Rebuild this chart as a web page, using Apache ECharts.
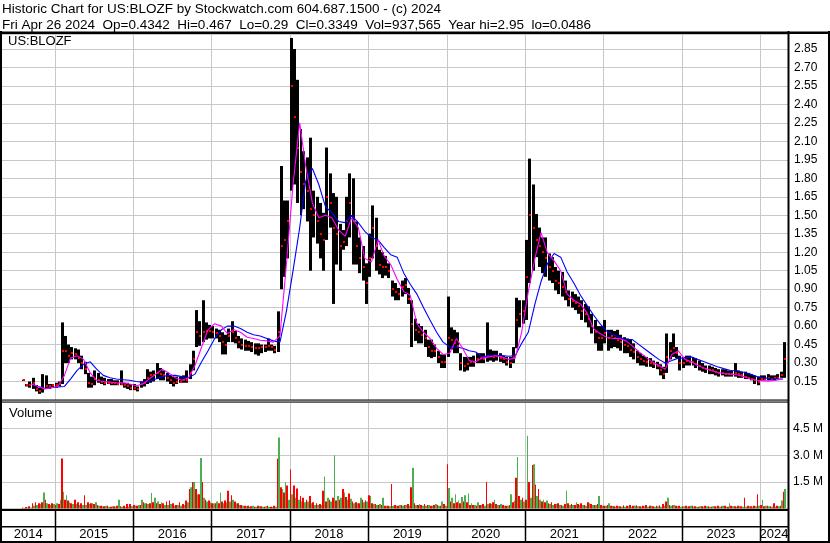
<!DOCTYPE html>
<html><head><meta charset="utf-8">
<script src="https://cdn.jsdelivr.net/npm/echarts@6/dist/echarts.min.js"></script>
<style>html,body{margin:0;padding:0;background:#fff}#c{width:830px;height:543px}</style>
</head><body><div id="c"></div>
<script>
// ---------- text ----------
const titleLine1 = 'Historic Chart for US:BLOZF by Stockwatch.com 604.687.1500 - (c) 2024';
const titleLine2 = 'Fri Apr 26 2024  Op=0.4342  Hi=0.467  Lo=0.29  Cl=0.3349  Vol=937,565  Year hi=2.95  lo=0.0486';
const symbolLabel = 'US:BLOZF';
const volumeLabel = 'Volume';

// ---------- half-month periods, first period starts 2014-08-01 ----------
const high = [
.165,.13,.15,.18,.12,.10,.21,.20,.13,.13,
.14,.15,.63,.52,.45,.43,.42,.41,.36,.31,
.22,.19,.24,.22,.19,.18,.17,.17,.16,.16,
.24,.14,.14,.13,.13,.11,.15,.17,.25,.23,
.24,.30,.26,.24,.22,.20,.19,.19,.19,.20,
.24,.29,.40,.73,.64,.81,.63,.61,.60,.58,
.57,.55,.53,.58,.64,.56,.52,.50,.49,.48,
.47,.46,.46,.45,.45,.50,.45,.44,.72,1.90,
1.62,1.62,2.94,2.85,2.60,2.20,2.02,1.97,2.13,1.70,
1.65,1.60,1.52,2.05,1.84,1.68,1.65,1.43,1.38,1.65,
1.84,1.80,1.45,1.32,1.25,1.11,1.35,1.58,1.48,1.22,
1.20,1.17,1.11,.97,.95,.91,.97,.99,.91,.81,
.66,.62,.60,.57,.49,.49,.45,.40,.37,.37,
.84,.59,.57,.55,.38,.35,.35,.35,.36,.38,
.38,.38,.63,.41,.40,.40,.38,.36,.35,.35,
.43,.83,.81,.81,1.30,1.96,1.75,1.51,1.40,1.32,
1.32,1.19,1.16,1.08,1.05,1.04,.97,.89,.88,.86,
.84,.81,.78,.76,.70,.65,.60,.60,.65,.57,
.57,.56,.57,.53,.51,.50,.49,.46,.40,.38,
.36,.35,.34,.32,.31,.29,.27,.54,.47,.54,
.43,.36,.35,.36,.36,.35,.34,.32,.30,.28,
.28,.27,.26,.25,.25,.25,.24,.24,.30,.24,
.23,.23,.22,.21,.20,.19,.20,.20,.21,.20,
.20,.21,.23,.47];
const low = [
.155,.11,.10,.09,.07,.05,.06,.09,.09,.10,
.10,.11,.13,.30,.30,.33,.33,.30,.25,.21,
.10,.10,.12,.14,.13,.12,.13,.12,.12,.12,
.12,.10,.09,.08,.08,.07,.10,.11,.13,.14,
.15,.17,.16,.16,.15,.13,.11,.13,.14,.14,
.14,.17,.24,.43,.44,.47,.49,.50,.50,.50,
.47,.37,.37,.47,.47,.46,.42,.41,.40,.40,
.39,.37,.36,.38,.39,.40,.40,.38,.39,.90,
1.00,1.15,1.70,1.75,1.60,1.50,1.55,1.45,1.05,1.32,
1.27,1.15,1.05,1.30,1.40,.78,1.10,1.05,1.22,1.25,
1.32,1.10,1.10,1.03,.97,.78,1.00,1.15,1.05,1.02,
.99,1.01,.99,.84,.81,.81,.84,.86,.78,.43,
.48,.46,.46,.43,.35,.34,.35,.30,.26,.26,
.35,.41,.38,.38,.24,.23,.24,.27,.27,.30,
.30,.30,.31,.32,.31,.32,.31,.30,.28,.26,
.30,.42,.59,.62,.65,.95,1.05,1.16,1.08,1.03,
1.00,.97,.95,.89,.86,.84,.81,.76,.75,.73,
.70,.65,.63,.59,.54,.46,.40,.40,.46,.40,
.42,.43,.42,.40,.38,.38,.35,.33,.30,.28,
.28,.27,.27,.26,.25,.20,.17,.22,.33,.35,
.34,.24,.26,.28,.28,.28,.26,.24,.23,.22,
.21,.21,.20,.19,.20,.19,.19,.19,.19,.18,
.18,.17,.17,.16,.13,.12,.16,.16,.16,.16,
.16,.17,.18,.18];
const close = [
.16,.12,.12,.14,.09,.07,.10,.11,.11,.12,
.12,.13,.40,.40,.36,.38,.37,.34,.30,.25,
.14,.13,.17,.16,.15,.14,.14,.14,.14,.13,
.13,.12,.11,.10,.10,.09,.13,.14,.18,.20,
.20,.22,.21,.20,.18,.16,.14,.15,.15,.16,
.16,.22,.33,.55,.52,.55,.56,.56,.55,.54,
.52,.47,.45,.52,.55,.50,.47,.45,.44,.44,
.43,.42,.42,.43,.43,.44,.43,.41,.55,1.25,
1.30,1.45,2.55,2.30,2.05,1.85,1.75,1.70,1.55,1.50,
1.45,1.35,1.30,1.65,1.60,1.40,1.35,1.25,1.28,1.45,
1.60,1.45,1.25,1.15,1.08,.95,1.15,1.40,1.25,1.10,
1.08,1.08,1.05,.90,.88,.86,.92,.93,.82,.62,
.57,.55,.53,.50,.43,.40,.40,.35,.31,.31,
.50,.49,.46,.44,.30,.28,.29,.31,.31,.33,
.34,.33,.36,.36,.35,.36,.34,.33,.31,.30,
.35,.65,.70,.72,1.00,1.50,1.40,1.30,1.25,1.20,
1.15,1.08,1.05,.97,.95,.92,.88,.82,.80,.79,
.76,.72,.70,.66,.60,.55,.50,.50,.54,.50,
.52,.50,.49,.47,.45,.44,.41,.39,.35,.33,
.32,.31,.30,.29,.28,.24,.21,.35,.40,.42,
.38,.30,.30,.32,.31,.31,.29,.28,.26,.25,
.24,.24,.23,.22,.22,.21,.21,.21,.22,.21,
.20,.19,.18,.17,.16,.15,.17,.17,.18,.17,
.18,.18,.20,.33];
// volume in millions, down-day and up-day bars per period
const volDown = [
.05,.08,.12,.30,.35,.30,.35,.50,.25,.30,
.20,.25,2.82,.50,.45,.30,.50,.35,.30,.75,
.35,.30,.25,.20,.15,.12,.15,.10,.12,.15,
.12,.15,.25,.25,.20,.15,.20,.35,.30,.30,
.35,.30,.25,.30,.40,.45,.30,.20,.35,.25,
.45,1.10,1.50,1.10,.80,1.50,.50,.45,.30,.30,
.30,.40,.45,1.00,.75,.40,.30,.20,.15,.15,
.12,.10,.15,.12,.10,.15,.10,.15,2.80,1.20,
.90,1.30,2.20,1.30,1.13,.70,.60,.50,.70,.35,
.30,.25,1.00,.40,.50,.60,.45,.50,1.10,.65,
.85,.40,.35,.30,.50,.45,.75,.30,.25,.20,
.20,.15,.15,1.38,.20,.15,.20,.20,.25,1.20,
.30,.20,.20,.25,.20,.15,.20,.20,.15,.25,
2.50,.40,.30,.35,.30,.40,.35,.20,.20,.15,
.20,.25,1.50,.30,.35,.25,.20,.20,.15,.20,
.35,1.73,.70,.60,.50,1.50,2.45,1.35,1.10,.40,
.35,.30,.35,.25,.30,.20,.25,.30,.25,.20,
.25,.30,.20,.35,.25,.20,.25,.20,.15,.20,
.15,.12,.15,.12,.18,.15,.20,.15,.18,.12,
.15,.20,.15,.12,.15,.18,.25,.40,.20,.18,
.15,.15,.12,.15,.12,.15,.12,.10,.12,.15,
.12,.10,.12,.15,.12,.15,.10,.15,.12,.15,
.12,.60,.15,.12,.15,.80,.20,.12,.15,.12,
.30,.15,.15,.95];
const volUp = [
.03,.05,.06,.15,.20,.25,.90,.30,.20,.25,
.30,.50,.94,.75,.35,.25,.25,.20,.20,.20,
.25,.30,.35,.15,.12,.15,.10,.12,.10,.50,
.10,.08,.10,.12,.15,.20,.50,.30,.25,.88,
.60,.40,.35,.20,.20,.25,.15,.20,.15,.20,
.35,1.20,1.50,.80,2.85,.60,.40,.35,.30,.40,
.90,.30,.35,.40,.50,.30,.20,.15,.12,.10,
.15,.10,.12,.10,.12,.10,.08,.10,4.00,1.10,
1.50,.50,.80,.60,.50,.40,.35,.40,.30,.20,
.20,.20,1.80,.60,.40,3.00,.70,.60,.90,.50,
.55,.30,.30,.60,.35,.40,.70,.25,.20,.25,
.60,.15,.12,.15,.15,.20,.15,.20,.15,2.30,
.20,.25,.15,.15,.20,.15,.25,.15,.40,.15,
1.15,.60,.80,.45,.65,.75,.85,.30,.20,.35,
.20,.15,.25,.25,.50,.20,.25,.15,.15,.80,
.45,2.90,.50,.40,4.10,.60,2.50,.70,.50,.50,
.45,.25,.20,.25,.20,.15,1.00,.20,.20,.35,
.20,.20,.15,.30,.20,.20,.70,.15,.15,.30,
.15,.10,.12,.10,.10,.12,.10,.15,.12,.10,
.12,.10,.15,.10,.12,.10,.15,.60,.15,.20,
.12,.10,.12,.10,.15,.10,.10,.12,.10,.12,
.10,.12,.10,.10,.15,.10,.30,.12,.10,.12,
.10,.10,.12,.10,.12,.15,.50,.15,.12,.10,
.10,.12,.45,1.10];

// ---------- moving averages, one value per month from Sep 2014 (mid-month) ----------
const maShort = [
.13,.11,.09,.10,.11,.20,.34,.36,.33,.22,
.16,.15,.145,.14,.14,.13,.115,.13,.17,.21,
.25,.22,.18,.16,.18,.28,.43,.57,.62,.60,
.54,.57,.55,.51,.50,.485,.48,.47,.52,1.10,
1.75,2.25,1.90,1.60,1.48,1.50,1.48,1.38,1.33,1.48,
1.40,1.15,1.12,1.30,1.17,1.10,.98,.88,.85,.62,
.55,.50,.42,.37,.38,.50,.42,.32,.31,.34,
.35,.36,.35,.33,.34,.55,.88,1.15,1.36,1.19,
1.13,1.05,.86,.81,.78,.71,.58,.54,.51,.50,
.50,.48,.44,.39,.35,.31,.28,.25,.37,.40,
.33,.31,.28,.26,.24,.225,.215,.21,.205,.19,
.17,.16,.155,.155,.16,.17];
const maLong = [
.13,.11,.095,.10,.105,.11,.17,.24,.29,.31,
.25,.20,.18,.17,.165,.16,.15,.145,.15,.17,
.19,.20,.20,.19,.18,.21,.31,.40,.50,.57,
.60,.60,.58,.55,.53,.52,.50,.48,.47,.72,
1.05,1.40,1.78,1.88,1.75,1.57,1.52,1.45,1.44,1.50,
1.44,1.37,1.32,1.30,1.24,1.18,1.16,1.03,.94,.86,
.75,.65,.55,.47,.43,.43,.42,.40,.39,.35,
.36,.36,.36,.355,.36,.46,.55,.78,.96,1.11,
1.19,1.16,1.04,.95,.85,.77,.69,.62,.56,.53,
.51,.49,.49,.45,.41,.37,.33,.30,.32,.34,
.34,.35,.33,.31,.29,.27,.255,.24,.235,.225,
.21,.19,.18,.175,.17,.17];

// ---------- axis categories ----------
const yearLabels = ['2014','2015','2016','2017','2018','2019','2020','2021','2022','2023','2024'];
const yearStarts = ['2015-01-01','2016-01-01','2017-01-01','2018-01-01','2019-01-01','2020-01-01','2021-01-01','2022-01-01','2023-01-01','2024-01-01'];
const axisStart = '2014-05-01', axisEnd = '2024-05-10';
const priceStep = 0.15, volStep = 1.5;

// ---------- build ----------
const T = s => Date.parse(s + 'T00:00:00Z');
const tMin = T(axisStart), tMax = T(axisEnd);
const periodStart = k => Date.UTC(2014, 7 + Math.floor(k / 2), k % 2 ? 16 : 1);
const ohlcData = high.map((h, k) => [periodStart(k), periodStart(k + 1), h, low[k], close[k]]);
const volData = volDown.map((r, k) => [periodStart(k), periodStart(k + 1), r, volUp[k]]);
const maShortData = maShort.map((v, j) => [Date.UTC(2014, 8 + j, 16), v]);
const maLongData = maLong.map((v, j) => [Date.UTC(2014, 8 + j, 16), v]);
const yearLineData = yearStarts.map(s => [T(s), 0]);
const yearSpanData = yearLabels.map(y => {
  const a = Math.max(tMin, Date.UTC(+y, 0, 1)), b = Math.min(tMax, Date.UTC(+y + 1, 0, 1));
  return [a, b, 0];
});

const FONT = '"Liberation Sans", Arial, sans-serif';
const GRID = '#c8c8c8';

function gridLines(color, width) {
  return function (params, api) {
    const p = api.coord([api.value(0), 0]);
    const cs = params.coordSys;
    const x = Math.round(p[0]) + 0.5;
    return { type: 'line', shape: { x1: x, y1: cs.y, x2: x, y2: cs.y + cs.height },
      style: { stroke: color, lineWidth: width } };
  };
}

const chart = echarts.init(document.getElementById('c'), null, { renderer: 'canvas' });
const xBase = { type: 'time', min: tMin, max: tMax, show: false };
chart.setOption({
  animation: false,
  backgroundColor: '#fff',
  grid: [
    { left: 2, width: 786, top: 34, height: 366 },
    { left: 2, width: 786, top: 402, height: 106.5 },
    { left: 2, width: 786, top: 511, height: 30 }
  ],
  xAxis: [Object.assign({ gridIndex: 0 }, xBase), Object.assign({ gridIndex: 1 }, xBase), Object.assign({ gridIndex: 2 }, xBase)],
  yAxis: [
    { gridIndex: 0, type: 'value', position: 'right', min: 0, max: 2.972, interval: priceStep,
      axisLine: { show: false }, axisTick: { show: false },
      axisLabel: { margin: 6, color: '#000', fontSize: 12, fontFamily: FONT,
        formatter: v => { const r = Math.round(v / priceStep); return (r >= 1 && Math.abs(r * priceStep - v) < 1e-6 && v < 2.9) ? v.toFixed(2) : ''; } },
      splitLine: { lineStyle: { color: GRID, width: 1 } } },
    { gridIndex: 1, type: 'value', position: 'right', min: 0, max: 6, interval: volStep,
      axisLine: { show: false }, axisTick: { show: false },
      axisLabel: { margin: 5, color: '#000', fontSize: 12, fontFamily: FONT,
        formatter: v => (v > 0.1 && v < 5.9) ? v.toFixed(1) + ' M' : '' },
      splitLine: { lineStyle: { color: GRID, width: 1 } } },
    { gridIndex: 2, type: 'value', min: 0, max: 1, show: false }
  ],
  series: [
    { type: 'custom', xAxisIndex: 0, yAxisIndex: 0, data: yearLineData, encode: { x: 0, y: 1 }, z: 1, silent: true,
      renderItem: gridLines(GRID, 1) },
    { type: 'custom', xAxisIndex: 1, yAxisIndex: 1, data: yearLineData, encode: { x: 0, y: 1 }, z: 1, silent: true,
      renderItem: gridLines(GRID, 1) },
    { type: 'custom', xAxisIndex: 2, yAxisIndex: 2, data: yearLineData, encode: { x: 0, y: 1 }, z: 1, silent: true,
      renderItem: gridLines('#000', 1.5) },
    { type: 'custom', name: 'price', xAxisIndex: 0, yAxisIndex: 0, data: ohlcData, encode: { x: [0, 1], y: [2, 3, 4] }, z: 2,
      renderItem: function (params, api) {
        const t0 = api.value(0), t1 = api.value(1);
        const pH = api.coord([t0, api.value(2)]);
        const pL = api.coord([t0, api.value(3)]);
        const pC = api.coord([t0, api.value(4)]);
        const pE = api.coord([t1, api.value(2)]);
        const x0 = Math.round(pH[0]), x1 = Math.round(pE[0]);
        const w = Math.max(1, Math.min(3, x1 - x0));
        return { type: 'group', children: [
          { type: 'rect', shape: { x: x0, y: pH[1], width: w, height: Math.max(1, pL[1] - pH[1]) }, style: { fill: '#000' } },
          { type: 'rect', shape: { x: x0 + w - 2, y: Math.round(pC[1]) - 1, width: 2, height: 2 }, style: { fill: '#ff0000' } }
        ] };
      } },
    { type: 'line', name: 'maLong', xAxisIndex: 0, yAxisIndex: 0, data: maLongData, showSymbol: false, z: 3,
      lineStyle: { color: '#0000ff', width: 1.1 } },
    { type: 'line', name: 'maShort', xAxisIndex: 0, yAxisIndex: 0, data: maShortData, showSymbol: false, z: 4,
      lineStyle: { color: '#ff00ff', width: 1.1 } },
    { type: 'custom', name: 'volume', xAxisIndex: 1, yAxisIndex: 1, data: volData, encode: { x: [0, 1], y: [2, 3] }, z: 2,
      renderItem: function (params, api) {
        const a = api.coord([api.value(0), 0]);
        const b = api.coord([api.value(1), 0]);
        const r = api.coord([api.value(0), api.value(2)]);
        const g = api.coord([api.value(0), api.value(3)]);
        const x0 = Math.round(a[0]), x2 = Math.round(b[0]), xm = Math.round((a[0] + b[0]) / 2);
        const base = a[1];
        return { type: 'group', children: [
          { type: 'rect', shape: { x: x0, y: r[1], width: Math.max(1, xm - x0), height: base - r[1] }, style: { fill: '#ff0000' } },
          { type: 'rect', shape: { x: xm, y: g[1], width: Math.max(1, x2 - xm), height: base - g[1] }, style: { fill: '#4cb050' } }
        ] };
      } },
    { type: 'custom', name: 'years', xAxisIndex: 2, yAxisIndex: 2, data: yearSpanData, encode: { x: [0, 1], y: 2 }, z: 3, silent: true,
      renderItem: function (params, api) {
        const a = api.coord([api.value(0), 0]);
        const b = api.coord([api.value(1), 0]);
        const cs = params.coordSys;
        return { type: 'text', x: (a[0] + b[0]) / 2, y: cs.y + 23.5,
          style: { text: yearLabels[params.dataIndex], fill: '#000', font: '13px ' + FONT, align: 'center', verticalAlign: 'middle' } };
      } }
  ],
  graphic: [
    { type: 'text', left: 2, top: 2.5, style: { text: titleLine1, fill: '#000', font: '13.5px ' + FONT } },
    { type: 'text', left: 2, top: 18, style: { text: titleLine2, fill: '#000', font: '13.5px ' + FONT } },
    { type: 'text', left: 8, top: 34.5, style: { text: symbolLabel, fill: '#000', font: '13px ' + FONT } },
    { type: 'text', left: 9, top: 406.5, style: { text: volumeLabel, fill: '#000', font: '13px ' + FONT } },
    { type: 'rect', shape: { x: 0, y: 31.5, width: 830, height: 2.5 }, style: { fill: '#000' }, z: 100 },
    { type: 'rect', shape: { x: 0, y: 31, width: 2, height: 512 }, style: { fill: '#000' }, z: 100 },
    { type: 'rect', shape: { x: 828, y: 31, width: 2, height: 512 }, style: { fill: '#000' }, z: 100 },
    { type: 'rect', shape: { x: 0, y: 541, width: 830, height: 2 }, style: { fill: '#000' }, z: 100 },
    { type: 'rect', shape: { x: 787.5, y: 31, width: 2, height: 512 }, style: { fill: '#000' }, z: 100 },
    { type: 'rect', shape: { x: 0, y: 399.5, width: 788, height: 1 }, style: { fill: '#000' }, z: 100 },
    { type: 'rect', shape: { x: 0, y: 401.5, width: 788, height: 1 }, style: { fill: '#000' }, z: 100 },
    { type: 'rect', shape: { x: 0, y: 509, width: 788, height: 2 }, style: { fill: '#000' }, z: 100 },
    { type: 'rect', shape: { x: 0, y: 526, width: 788, height: 1.5 }, style: { fill: '#000' }, z: 100 }
  ]
});
</script></body></html>
